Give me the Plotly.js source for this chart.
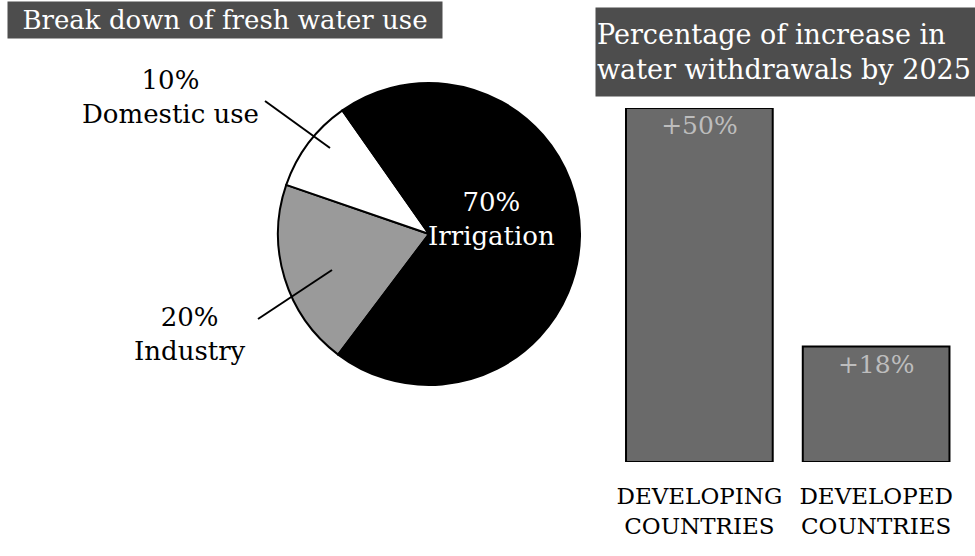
<!DOCTYPE html>
<html>
<head>
<meta charset="utf-8">
<script src="https://cdn.plot.ly/plotly-3.0.1.min.js"></script>
<style>html,body{margin:0;padding:0;background:#fff;}#chart{width:975px;height:556px;}</style>
</head>
<body>
<div id="chart"></div>
<script>
// ---- data ----
var useLabels = ['Industry', 'Domestic use', 'Irrigation'];
var useShares = [20, 10, 70];
var useColors = ['#9a9a9a', '#ffffff', '#000000'];

var regionLabels = ['DEVELOPING<br>COUNTRIES', 'DEVELOPED<br>COUNTRIES'];
var barHeights = [50, 16.3];          // bar lengths as drawn
var barLabels = ['+50%', '+18%'];

var leftTitle = 'Break down of fresh water use';
var rightTitle = 'Percentage of increase in<br>water withdrawals by 2025';

// ---- helpers (pixel -> paper) ----
var W = 975, H = 556;
function px(x) { return x / W; }
function py(y) { return (H - y) / H; }

var serif = 'DejaVu Serif, Liberation Serif, serif';

var pie = {
  type: 'pie',
  labels: useLabels,
  values: useShares,
  sort: false,
  direction: 'clockwise',
  rotation: -143,
  textinfo: 'none',
  hoverinfo: 'label+percent',
  marker: { colors: useColors, line: { color: '#000', width: 2 } },
  domain: { x: [px(278), px(580)], y: [py(385), py(83)] },
  showlegend: false
};

var bars = {
  type: 'bar',
  x: [0, 1],
  y: barHeights,
  text: barLabels,
  textposition: 'inside',
  insidetextanchor: 'end',
  textfont: { family: serif, size: 25, color: '#bdbdbd' },
  width: 0.83,
  marker: { color: '#6a6a6a', line: { color: '#000', width: 2 } },
  xaxis: 'x2', yaxis: 'y2',
  hoverinfo: 'x+text',
  showlegend: false,
  cliponaxis: false
};

function pct(v) { return v + '%'; }

var annotations = [
  { text: leftTitle, xref: 'paper', yref: 'paper', x: px(225), y: py(20.5),
    xanchor: 'center', yanchor: 'middle', showarrow: false, width: 432, height: 34,
    bgcolor: '#4d4d4d', font: { family: serif, size: 26, color: '#ffffff' } },
  { text: rightTitle, xref: 'paper', yref: 'paper', x: px(786), y: py(52),
    xanchor: 'center', yanchor: 'middle', showarrow: false, width: 378, height: 86, align: 'left',
    bgcolor: '#4d4d4d', font: { family: serif, size: 27, color: '#ffffff' } },
  { text: pct(useShares[1]) + '<br>' + useLabels[1], xref: 'paper', yref: 'paper',
    x: px(170), y: py(97), xanchor: 'center', yanchor: 'middle', showarrow: false,
    font: { family: serif, size: 26, color: '#000' } },
  { text: pct(useShares[0]) + '<br>' + useLabels[0], xref: 'paper', yref: 'paper',
    x: px(190), y: py(334), xanchor: 'center', yanchor: 'middle', showarrow: false,
    font: { family: serif, size: 26, color: '#000' } },
  { text: pct(useShares[2]) + '<br>' + useLabels[2], xref: 'paper', yref: 'paper',
    x: px(492), y: py(219), xanchor: 'center', yanchor: 'middle', showarrow: false,
    font: { family: serif, size: 26, color: '#ffffff' } }
];

var shapes = [
  { type: 'line', xref: 'paper', yref: 'paper', x0: px(265), y0: py(101), x1: px(330), y1: py(148),
    line: { color: '#000', width: 2 } },
  { type: 'line', xref: 'paper', yref: 'paper', x0: px(258), y0: py(319), x1: px(332), y1: py(270),
    line: { color: '#000', width: 2 } }
];

var layout = {
  width: W, height: H,
  margin: { l: 0, r: 0, t: 0, b: 0 },
  paper_bgcolor: '#ffffff',
  plot_bgcolor: 'rgba(0,0,0,0)',
  font: { family: serif },
  xaxis2: {
    domain: [px(611), px(964.5)], anchor: 'y2', range: [-0.5, 1.5],
    tickmode: 'array', tickvals: [0, 1], ticktext: regionLabels,
    showgrid: false, zeroline: false, showline: false, ticks: '',
    ticklabelstandoff: 18,
    tickfont: { family: serif, size: 23, color: '#000' }, fixedrange: true
  },
  yaxis2: {
    domain: [py(462), py(108)], anchor: 'x2', range: [0, 50],
    showgrid: false, zeroline: false, showline: false, showticklabels: false, ticks: '', fixedrange: true
  },
  annotations: annotations,
  shapes: shapes
};

Plotly.newPlot('chart', [pie, bars], layout, { displayModeBar: false, staticPlot: true });
</script>
</body>
</html>
